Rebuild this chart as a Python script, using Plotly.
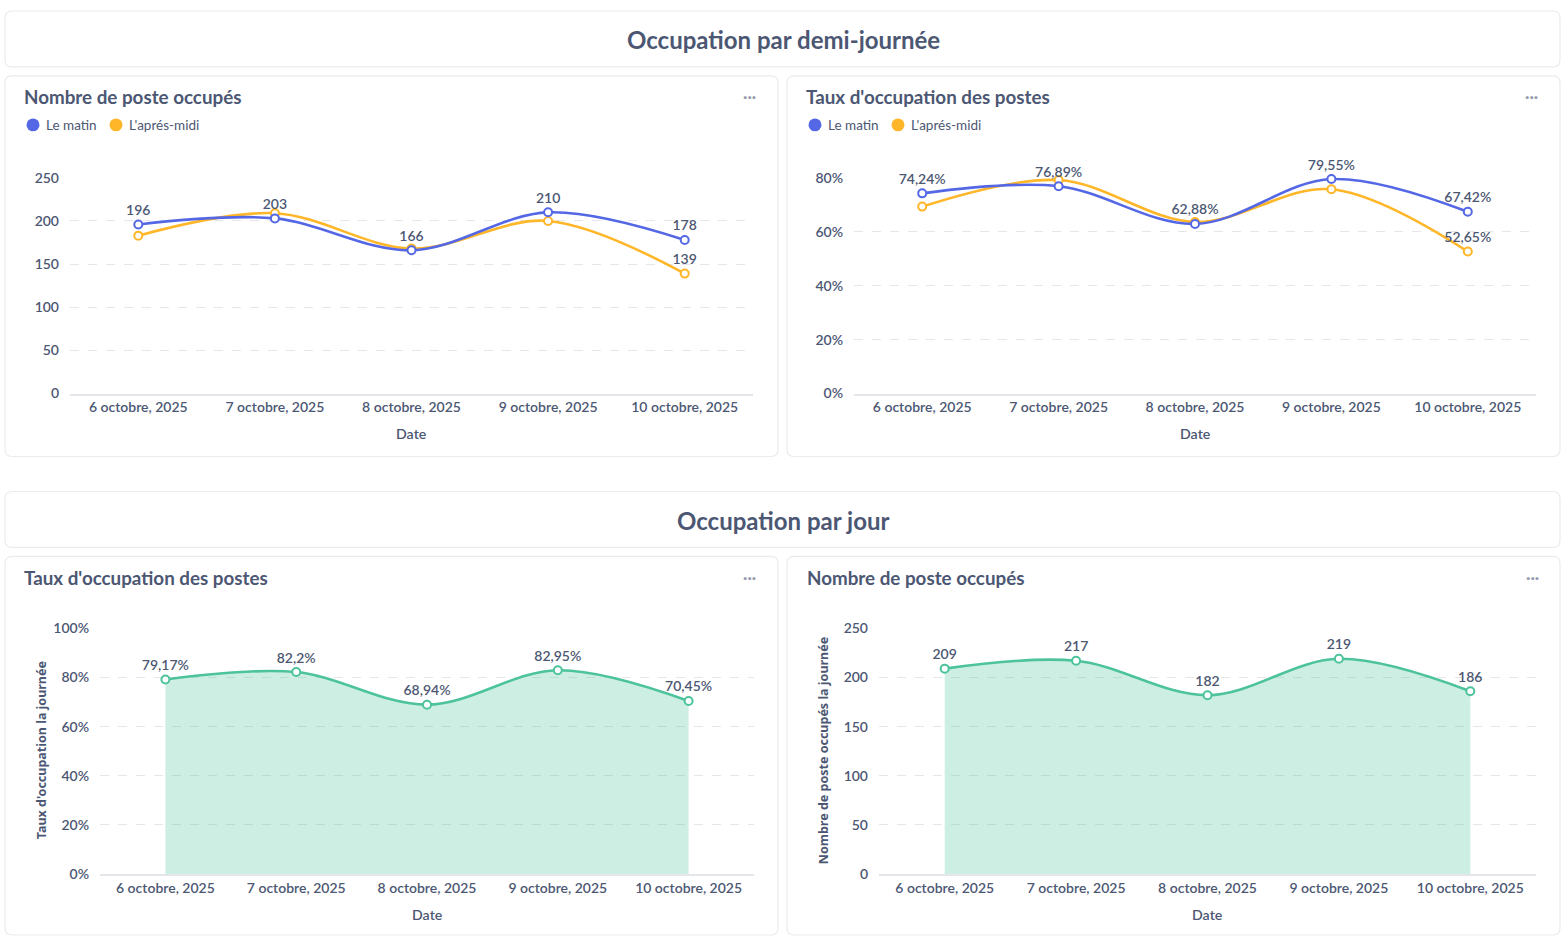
import plotly.graph_objects as go

# ---------------- data ----------------
dates = ["6 octobre, 2025", "7 octobre, 2025", "8 octobre, 2025", "9 octobre, 2025", "10 octobre, 2025"]
matin_count = [196, 203, 166, 210, 178]
apres_midi_count = [183, 209, 168, 200, 139]
matin_rate = [74.24, 76.89, 62.88, 79.55, 67.42]
apres_midi_rate = [69.32, 79.17, 63.64, 75.76, 52.65]
jour_rate = [79.17, 82.2, 68.94, 82.95, 70.45]
jour_count = [209, 217, 182, 219, 186]
apres_midi_label_shown = [False, False, False, False, True]

count_ticks = [0, 50, 100, 150, 200, 250]
rate_ticks_half = [0, 20, 40, 60, 80]
rate_ticks_day = [0, 20, 40, 60, 80, 100]

series_names = ["Le matin", "L'aprés-midi"]
section_titles = ["Occupation par demi-journée", "Occupation par jour"]
card_titles = ["Nombre de poste occupés", "Taux d'occupation des postes",
               "Taux d'occupation des postes", "Nombre de poste occupés"]
y_titles = ["Taux d'occupation la journée", "Nombre de poste occupés la journée"]

# ---------------- style ----------------
W, H = 1566, 944
FONT = "Lato"
TXT = "#4C5773"
BLUE = "#5468E6"
YELLOW = "#FFB628"
GREEN = "#4CC39C"
GREEN_FILL = "rgba(76,195,156,0.28)"
GRID = "#E4E6EA"
BORDER = "#EAEBEE"

# the page is photographed with an 8px band above and below the figure,
# so vertical screen positions are mapped onto the 928px visible band
TOP_OFF, VIS_H = 8, 928


def px(x):
    return x / W


def py(y):
    return 1 - (y - TOP_OFF) / VIS_H


def fr(v, pct):
    s = f"{v:.2f}".rstrip("0").rstrip(".").replace(".", ",")
    return s + ("%" if pct else "")


def card_path(x0, y0, x1, y1, r=7):
    rx, ry = r / W, r / VIS_H
    X0, X1 = px(x0), px(x1)
    Y0, Y1 = py(y0), py(y1)
    return (f"M {X0+rx},{Y0} L {X1-rx},{Y0} Q {X1},{Y0} {X1},{Y0-ry} "
            f"L {X1},{Y1+ry} Q {X1},{Y1} {X1-rx},{Y1} L {X0+rx},{Y1} "
            f"Q {X0},{Y1} {X0},{Y1+ry} L {X0},{Y0-ry} Q {X0},{Y0} {X0+rx},{Y0} Z")


fig = go.Figure()


def line_trace(y, color, ax, labels, pct, fill=False, name=None):
    xa = "x" if ax == 1 else f"x{ax}"
    ya = "y" if ax == 1 else f"y{ax}"
    texts = [fr(v, pct) if show else "" for v, show in zip(y, labels)]
    fig.add_trace(go.Scatter(
        x=dates, y=y, xaxis=xa, yaxis=ya, name=name,
        mode="lines+markers+text",
        line=dict(color=color, width=2.6, shape="spline", smoothing=1.0),
        marker=dict(symbol="circle", size=8, color="white",
                    line=dict(color=color, width=2)),
        text=texts, textposition="top center",
        textfont=dict(family=FONT, size=14, color=TXT, weight=600),
        fill="tozeroy" if fill else None,
        fillcolor=GREEN_FILL if fill else None,
        cliponaxis=False, hoverinfo="skip", showlegend=False,
    ))


all_lab = [True] * 5
line_trace(apres_midi_count, YELLOW, 1, apres_midi_label_shown, False, name=series_names[1])
line_trace(matin_count, BLUE, 1, all_lab, False, name=series_names[0])
line_trace(apres_midi_rate, YELLOW, 2, apres_midi_label_shown, True, name=series_names[1])
line_trace(matin_rate, BLUE, 2, all_lab, True, name=series_names[0])
line_trace(jour_rate, GREEN, 3, all_lab, True, fill=True)
line_trace(jour_count, GREEN, 4, all_lab, False, fill=True)

# ---------------- axes ----------------
panels = [
    (70, 753, 177, 393, [0, 250], count_ticks, False),
    (854, 1536, 177, 393, [0, 80], rate_ticks_half, True),
    (100, 754, 628, 874, [0, 100], rate_ticks_day, True),
    (879, 1536, 628, 874, [0, 250], count_ticks, False),
]
tickfont = dict(family=FONT, size=14, color=TXT, weight=600)
layout_axes = {}
for i, (x0, x1, yt, yb, rng, ticks, pct) in enumerate(panels, start=1):
    sx = "xaxis" if i == 1 else f"xaxis{i}"
    sy = "yaxis" if i == 1 else f"yaxis{i}"
    layout_axes[sx] = dict(
        domain=[px(x0), px(x1)], anchor="y" if i == 1 else f"y{i}",
        type="category", range=[-0.5, 4.5], showgrid=False, zeroline=False,
        showline=True, linecolor=GRID, linewidth=1.5, ticks="", ticklen=0,
        tickfont=tickfont, ticklabelstandoff=0, fixedrange=True,
    )
    layout_axes[sy] = dict(
        domain=[py(yb), py(yt)], anchor="x" if i == 1 else f"x{i}",
        range=rng, tickmode="array", tickvals=ticks,
        ticktext=[f"{t}%" if pct else f"{t}" for t in ticks],
        showgrid=True, gridcolor=GRID, griddash="dash", gridwidth=1,
        zeroline=False, showline=False, ticks="",
        tickfont=tickfont, ticklabelstandoff=10, fixedrange=True,
    )

# ---------------- cards ----------------
shapes = []
cards = [
    (5, 10, 1560, 66),
    (5, 75, 778, 456),
    (787, 75, 1560, 456),
    (5, 491, 1560, 547),
    (5, 556, 778, 935),
    (787, 556, 1560, 935),
]
for c in cards:
    shapes.append(dict(type="path", path=card_path(*c), xref="paper", yref="paper",
                       fillcolor="white", line=dict(color=BORDER, width=1.2), layer="below"))

annotations = []


def ann(x, y, text, size, weight=700, color=TXT, xanchor="left", family=FONT, angle=0):
    annotations.append(dict(x=px(x), y=py(y), xref="paper", yref="paper", text=text,
                            showarrow=False, xanchor=xanchor, yanchor="middle",
                            textangle=angle,
                            font=dict(family=family, size=size, color=color, weight=weight)))


ann(783, 39, section_titles[0], 24, xanchor="center")
ann(783, 520, section_titles[1], 24, xanchor="center")
ann(22, 96, card_titles[0], 18.8)
ann(804, 96, card_titles[1], 18.8)
ann(22, 577, card_titles[2], 18.8)
ann(805, 577, card_titles[3], 18.8)
for (x, y) in [(749, 95), (1531, 95), (749, 576), (1532, 576)]:
    ann(x, y, "···", 16, weight=700, color="#949AAB", xanchor="center")

for (x0, x1, yt, yb, rng, ticks, pct) in panels[:2]:
    ann((x0 + x1) / 2, 433, "Date", 14.2, weight=600, xanchor="center")
for (x0, x1, yt, yb, rng, ticks, pct) in panels[2:]:
    ann((x0 + x1) / 2, 914, "Date", 14.2, weight=600, xanchor="center")
ann(41, 750, y_titles[0], 12.5, weight=700, xanchor="center", family="Noto Sans", angle=-90)
ann(823, 750, y_titles[1], 12.5, weight=700, xanchor="center", family="Noto Sans", angle=-90)

for lx in (33, 815):
    for dx, name, col in [(0, series_names[0], BLUE), (83, series_names[1], YELLOW)]:
        cx = lx + dx
        r = 6.5
        shapes.append(dict(type="circle", xref="paper", yref="paper",
                           x0=px(cx - r), x1=px(cx + r), y0=py(124 + r), y1=py(124 - r),
                           fillcolor=col, line=dict(width=0)))
        ann(cx + 11, 124, name, 13.5, weight=400)

fig.update_layout(
    width=W, height=H, margin=dict(l=0, r=0, t=0, b=0),
    paper_bgcolor="white", plot_bgcolor="rgba(0,0,0,0)",
    font=dict(family=FONT, color=TXT),
    shapes=shapes, annotations=annotations, showlegend=False,
    hovermode=False, **layout_axes,
)

fig.write_html("out.html", config={"displayModeBar": False},
               post_script="document.body.style.margin='0px';document.body.style.overflow='hidden';")
